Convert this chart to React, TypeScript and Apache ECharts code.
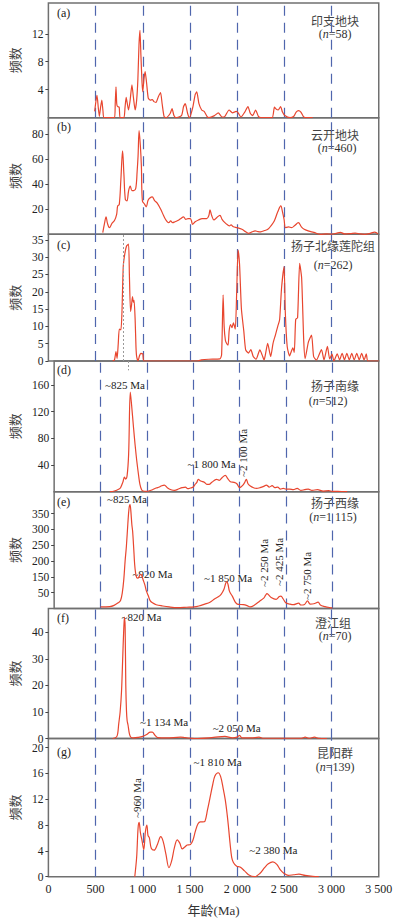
import React, { useEffect, useRef } from 'react';
import * as echarts from 'echarts';

// ---------- data (ages in Ma, kernel-density counts) ----------
const agesA = [490, 505, 515, 528, 540, 553, 566, 578, 590, 700, 708, 716, 724, 732, 750, 760, 800, 812, 824, 836, 849, 866, 885, 900, 919, 935, 948, 960, 970, 980, 992, 1000, 1012, 1025, 1040, 1058, 1080, 1100, 1118, 1140, 1165, 1188, 1205, 1225, 1245, 1290, 1310, 1330, 1350, 1410, 1432, 1450, 1475, 1495, 1530, 1555, 1572, 1595, 1624, 1650, 1680, 1700, 1760, 1800, 1840, 1870, 1914, 1950, 1990, 2010, 2040, 2080, 2114, 2140, 2165, 2195, 2225, 2250, 2370, 2395, 2415, 2435, 2460, 2480, 2505, 2560, 2600, 2625, 2650, 2675, 2700, 2720, 2800];
const countA = [0.9, 2.5, 3.2, 1.5, 0.2, 1.5, 2.5, 1.0, 0, 0, 2.0, 4.4, 2.0, 1.6, 1.5, 0, 0, 1.5, 2.9, 2.0, 1.1, 2.5, 4.7, 3.0, 1.1, 2.5, 5.5, 10.5, 12.5, 9.0, 5.0, 3.7, 5.5, 6.6, 5.0, 2.8, 2.5, 2.6, 2.3, 2.2, 3.0, 3.6, 2.0, 0.2, 0, 0.6, 1.3, 0.3, 0, 0.3, 1.6, 2.0, 0.6, 0, 1.5, 3.3, 3.7, 2.0, 1.1, 0.9, 0.2, 0, 0.3, 0.7, 0.1, 0.2, 1.1, 0.7, 0.9, 0.7, 0.1, 0.8, 1.6, 0.6, 0.3, 1.1, 0.2, 0, 0, 1.5, 1.2, 1.1, 1.6, 0.8, 0.3, 0, 0.2, 0.8, 1.0, 0.8, 0.2, 0, 0];

const agesB = [576, 595, 611, 625, 646, 675, 700, 723, 734, 751, 768, 786, 800, 815, 832, 850, 867, 885, 905, 926, 940, 950, 961, 975, 985, 996, 1020, 1037, 1055, 1075, 1100, 1125, 1153, 1190, 1220, 1240, 1260, 1275, 1295, 1317, 1340, 1370, 1400, 1432, 1455, 1480, 1503, 1515, 1527, 1555, 1590, 1630, 1677, 1700, 1712, 1730, 1754, 1785, 1817, 1840, 1870, 1900, 1918, 1935, 1960, 2000, 2050, 2090, 2120, 2160, 2190, 2220, 2250, 2290, 2325, 2360, 2393, 2430, 2462, 2480, 2497, 2512, 2545, 2575, 2610, 2648, 2680, 2710, 2760, 2812, 2880, 2950, 3000, 3050, 3092, 3140, 3200, 3250, 3300, 3350, 3400, 3458, 3493];
const countB = [1.3, 9, 14, 9, 5.3, 9, 11, 16, 22.7, 24, 44, 66.7, 48, 28, 26.7, 35, 38.6, 35, 35, 37, 50, 62.7, 83, 70, 54.7, 26.7, 24, 22, 27, 29, 30, 27, 25, 20, 15, 12, 10, 9.3, 10.7, 9.3, 10, 11, 12.5, 14, 12, 12.5, 12.5, 11, 8, 10, 11.5, 12.5, 12.5, 15, 19.5, 15, 11.5, 13.5, 15.2, 12, 9.3, 7.5, 6.7, 7.5, 6, 5.3, 4, 2, 0.8, 2, 2.7, 2.2, 2, 3, 4, 7, 10.7, 18, 22.7, 18, 12, 5.3, 6, 5.3, 7, 9.3, 6, 4, 2.5, 1.6, 0, 0.3, 0.2, 0.8, 1.6, 0.3, 0.6, 1, 0.3, 0, 0.5, 1.8, 0.3];

const agesC = [680, 700, 716, 728, 740, 751, 768, 779, 793, 810, 828, 849, 858, 870, 880, 891, 900, 908, 919, 928, 935, 950, 965, 978, 1000, 1014, 1580, 1620, 1700, 1817, 1835, 1851, 1862, 1875, 1890, 1904, 1915, 1930, 1945, 1960, 1980, 1995, 2009, 2025, 2045, 2070, 2090, 2120, 2145, 2170, 2200, 2240, 2265, 2285, 2300, 2323, 2355, 2380, 2405, 2430, 2450, 2470, 2497, 2510, 2530, 2555, 2590, 2605, 2620, 2640, 2662, 2683, 2705, 2720, 2755, 2788, 2810, 2840, 2893, 2920, 2956, 2980, 3005, 3025, 3060, 3085, 3112, 3137, 3162, 3188, 3214, 3240, 3267, 3293, 3319, 3345, 3368, 3385, 3500];
const countC = [0, 0.3, 2.7, 0.7, 5, 9.2, 9, 13.8, 27.3, 31, 33.2, 33.8, 25, 14.3, 16, 18.6, 17, 17.5, 12, 4, 1.3, 0, 1.5, 2.2, 2, 0, 0, 0.3, 0.5, 0.6, 1.8, 19.1, 10, 6, 5, 4.6, 8.7, 10.5, 9.6, 11, 9.2, 20, 32, 28, 15, 8.7, 3.2, 2.3, 3.3, 1.3, 0.5, 3.2, 1.7, 0.3, 2, 5.1, 1.3, 5.1, 7.5, 10, 12, 21, 27.3, 14, 4.2, 1.5, 3.8, 2.5, 12, 12.5, 28.2, 24, 6, 0.7, 5.5, 7.5, 1.3, 0.3, 3.3, 0.3, 4.2, 0.6, 2, 0, 2.1, 0.3, 2.2, 0.3, 2.2, 0.3, 2.2, 0.3, 2.2, 0.3, 2.2, 0.3, 2.1, 0, 0];

const agesD = [600, 650, 700, 716, 740, 758, 770, 786, 803, 821, 835, 856, 873, 891, 910, 925, 943, 960, 1000, 1060, 1100, 1135, 1160, 1188, 1220, 1260, 1300, 1340, 1380, 1415, 1440, 1470, 1500, 1520, 1537, 1555, 1580, 1620, 1650, 1670, 1700, 1750, 1780, 1810, 1845, 1870, 1900, 1940, 1970, 2000, 2030, 2055, 2072, 2090, 2115, 2150, 2180, 2220, 2260, 2288, 2320, 2350, 2380, 2410, 2440, 2470, 2500, 2540, 2580, 2620, 2660, 2700, 2740, 2780, 2840, 2900, 2960, 3000, 3100, 3160];
const countD = [0, 1, 4, 6, 14, 22, 19, 23.5, 56, 149.5, 130, 96, 70, 46, 25, 11, 3, 1, 0.5, 3, 5.5, 7, 9, 10, 6, 3, 2, 4, 6, 7, 4.5, 5.5, 7, 11, 13.5, 18.6, 16, 14, 11, 11, 14, 18.6, 17, 21, 24.6, 20, 15, 14, 12, 6, 9, 14, 18.6, 12, 8.5, 6, 5, 6, 8, 10, 7, 9, 6, 7, 4, 5, 4, 4, 3, 5, 2, 3, 4, 2, 3, 1, 1.5, 0.5, 0.3, 0];

const agesE = [500, 600, 646, 690, 716, 735, 751, 765, 779, 795, 808, 818, 826, 838, 846, 858, 868, 878, 890, 903, 915, 928, 943, 960, 978, 995, 1013, 1035, 1060, 1100, 1170, 1240, 1330, 1430, 1510, 1560, 1624, 1680, 1729, 1770, 1800, 1830, 1850, 1862, 1875, 1890, 1921, 1974, 2040, 2080, 2114, 2160, 2218, 2260, 2280, 2295, 2310, 2340, 2393, 2428, 2445, 2470, 2497, 2540, 2580, 2637, 2660, 2700, 2732, 2760, 2800, 2847, 2870, 2920, 2970, 3000];
const countE = [5, 6, 10, 18, 25, 50, 92, 150, 197, 270, 318, 329, 312, 265, 245, 190, 140, 113, 98, 96, 100, 108, 105, 90, 75, 55, 42, 25, 18, 12, 8, 5, 3, 4, 5, 8, 14, 20, 30, 37, 45, 60, 80, 85, 76, 55, 39, 14, 12, 9, 5, 11, 24, 33, 42, 47, 44, 35, 29, 38, 39, 30, 18, 14, 12, 17, 11, 13, 24, 14, 15, 20, 11, 6, 3, 2];

const agesF = [680, 720, 734, 745, 760, 775, 787, 797, 806, 813, 820, 827, 834, 844, 858, 872, 900, 950, 1000, 1040, 1080, 1100, 1130, 1160, 1250, 1400, 1450, 1550, 1750, 1870, 1950, 2000, 2026, 2050, 2150, 2230, 2280, 2680, 2720, 2760, 2820, 2860, 2950];
const countF = [0, 0.5, 1.8, 5.5, 10, 18, 30, 40, 45.8, 42, 20, 10.6, 6.8, 5, 1.8, 0.5, 0.2, 0.4, 0.8, 1.5, 2.4, 2.4, 1.2, 0.3, 0.2, 0.5, 0.3, 0, 0.4, 0.8, 0.2, 0.5, 1.2, 0.2, 0.2, 0.5, 0.1, 0.1, 0.5, 0.1, 0.5, 0.1, 0];

const agesG = [915, 935, 950, 961, 975, 993, 1010, 1028, 1043, 1055, 1070, 1090, 1120, 1155, 1190, 1215, 1245, 1277, 1305, 1335, 1365, 1392, 1418, 1445, 1470, 1505, 1530, 1558, 1585, 1610, 1635, 1659, 1685, 1712, 1740, 1764, 1799, 1825, 1850, 1874, 1895, 1910, 1925, 1942, 1960, 1995, 2030, 2078, 2120, 2183, 2240, 2290, 2330, 2378, 2420, 2460, 2497, 2540, 2600, 2655, 2720, 2800, 2865];
const countG = [0, 3, 7.5, 8.4, 6.8, 5.5, 4.2, 7, 8, 6.4, 6, 4.4, 4.1, 5, 6.2, 5.5, 3.5, 1.4, 2.4, 4.5, 5.7, 5.2, 4.3, 4.6, 4.9, 5.0, 5.6, 7.1, 8.2, 8.5, 8.5, 8.6, 10.3, 12.2, 14.2, 15.6, 16.1, 15.5, 13.8, 11.9, 9.5, 7.4, 5.1, 3.0, 2.2, 1.6, 1.5, 0.9, 0.3, 0, 0.5, 1.4, 2.0, 2.3, 1.9, 1.0, 0.5, 0.2, 0.3, 0.4, 0.2, 0.05, 0];

const agesAll = [agesA, agesB, agesC, agesD, agesE, agesF, agesG];
const countsAll = [countA, countB, countC, countD, countE, countF, countG];

const panelTags = ['(a)', '(b)', '(c)', '(d)', '(e)', '(f)', '(g)'];
const regionNames = ['印支地块', '云开地块', '扬子北缘莲陀组', '扬子南缘', '扬子西缘', '澄江组', '昆阳群'];
const sampleSizes = ['58', '460', '262', '512', '1 115', '70', '139'];

const yTicksA = [4, 8, 12];
const yTicksB = [20, 40, 60, 80];
const yTicksC = [0, 5, 10, 15, 20, 25, 30, 35];
const yTicksD = [40, 80, 120, 160];
const yTicksE = [50, 100, 150, 200, 250, 300];
const yTickTextE = ['50', '150', '200', '250', '300', '350'];
const yTicksF = [0, 10, 20, 30, 40];
const yTicksG = [0, 4, 8, 12, 16, 20];
const yTicksAll = [yTicksA, yTicksB, yTicksC, yTicksD, yTicksE, yTicksF, yTicksG];

const xTicks = [0, 500, 1000, 1500, 2000, 2500, 3000, 3500];
const guideAges = [500, 1000, 1500, 2000, 2500, 3000];
const markerAge = 798;

const peakNotesD = ['~825 Ma', '~1 800 Ma', '~2 100 Ma'];
const peakNotesE = ['~825 Ma', '~920 Ma', '~1 850 Ma', '~2 250 Ma', '~2 425 Ma', '~2 750 Ma'];
const peakNotesF = ['~820 Ma', '~1 134 Ma', '~2 050 Ma'];
const peakNotesG = ['~960 Ma', '~1 810 Ma', '~2 380 Ma'];

// ---------- layout ----------
const W = 396;
const H = 919;
const gridLeft = 44.5;
const gridWidth = 334.25;
const gridTops = [3, 117.7, 234.3, 361, 491.7, 608.5, 738.5];
const gridBottom = 876.7;
const yMaxes = [16.4, 93.3, 36.6, 196, 369.6, 49, 21.4];

const SERIF = "'Liberation Serif', 'Times New Roman', 'Noto Sans CJK SC', serif";
const CJK = "'Noto Sans CJK SC', sans-serif";
const RED = '#e8462f';
const BLUE = '#4f66ad';

const fmtThousands = (v: number) => {
  const s = String(Math.round(v));
  return s.length > 3 ? s.slice(0, s.length - 3) + ' ' + s.slice(s.length - 3) : s;
};

function buildOption() {
  const n = gridTops.length;
  const grids = gridTops.map((t, i) => ({
    left: gridLeft,
    width: gridWidth,
    top: t,
    height: (i < n - 1 ? gridTops[i + 1] : gridBottom) - t,
    show: true,
    borderColor: '#707070',
    borderWidth: 1.5,
    backgroundColor: 'transparent',
  }));

  const xAxes = gridTops.map((_, i) => ({
    type: 'value',
    gridIndex: i,
    min: 0,
    max: 3500,
    interval: 500,
    axisLine: { show: false },
    splitLine: { show: false },
    axisTick: { show: false },
    axisLabel: {
      show: i === n - 1,
      customValues: xTicks,
      formatter: (v: number) => fmtThousands(v),
      fontFamily: SERIF,
      fontSize: 12,
      color: '#222',
      margin: 6,
    },
    name: i === n - 1 ? '年龄(Ma)' : '',
    nameLocation: 'middle',
    nameGap: 27,
    nameTextStyle: { fontFamily: SERIF, fontSize: 13, color: '#333' },
  }));

  const yAxes = gridTops.map((_, i) => ({
    type: 'value',
    gridIndex: i,
    min: 0,
    max: yMaxes[i],
    axisLine: { show: false },
    splitLine: { show: false },
    axisTick: {
      show: true,
      customValues: yTicksAll[i],
      length: 3,
      lineStyle: { color: '#444', width: 1 },
    },
    axisLabel: {
      customValues: yTicksAll[i],
      formatter: (v: number) => {
        if (i === 4) {
          const k = yTicksE.indexOf(v);
          return k >= 0 ? yTickTextE[k] : '';
        }
        return String(v);
      },
      fontFamily: SERIF,
      fontSize: 11.5,
      color: '#222',
      margin: 5,
    },
    name: '频数',
    nameLocation: 'middle',
    nameGap: 24,
    nameTextStyle: { fontFamily: CJK, fontSize: 13, color: '#444' },
  }));

  const series: any[] = agesAll.map((ages, i) => ({
    type: 'line',
    xAxisIndex: i,
    yAxisIndex: i,
    data: ages.map((a, j) => [a, countsAll[i][j]]),
    showSymbol: false,
    symbol: 'none',
    smooth: i === 2 || i === 0 ? 0.2 : 0.35,
    silent: true,
    z: 3,
    lineStyle: { color: RED, width: 1.2 },
    markLine: {
      silent: true,
      symbol: 'none',
      label: { show: false },
      animation: false,
      z: 2,
      lineStyle: { color: BLUE, type: [10, 7], width: 1.2 },
      data: guideAges.map((a) => ({ xAxis: a })),
    },
  }));

  // grey dotted marker line through panel (c) into the top of (d)
  series.push({
    type: 'line',
    xAxisIndex: 2,
    yAxisIndex: 2,
    data: [],
    silent: true,
    markLine: {
      silent: true,
      symbol: 'none',
      label: { show: false },
      lineStyle: { color: '#9a9a9a', type: [2, 2], width: 1 },
      data: [{ xAxis: markerAge }],
    },
  });
  series.push({
    type: 'line',
    xAxisIndex: 3,
    yAxisIndex: 3,
    data: [],
    silent: true,
    markLine: {
      silent: true,
      symbol: 'none',
      label: { show: false },
      lineStyle: { color: '#9a9a9a', type: [2, 2], width: 1 },
      data: [[{ coord: [markerAge, yMaxes[3]] }, { coord: [markerAge, yMaxes[3] - 14] }]],
    },
  });

  const graphics: any[] = [];
  const tagY = [13, 127, 245, 370, 502, 618, 752];
  const nameY = [20, 134, 245.5, 385, 502.5, 622, 752];
  const nameX = [335, 335, 333, 335, 335, 333, 335];
  const nY = [34, 148, 264.5, 401, 517, 636, 766.5];
  const nX = [335, 337, 333, 328, 333, 335, 335];
  panelTags.forEach((tag, i) => {
    graphics.push({
      type: 'text',
      x: 57,
      y: tagY[i],
      style: { text: tag, fontFamily: SERIF, fontSize: 12, fill: '#222', align: 'left', verticalAlign: 'middle' },
    });
    graphics.push({
      type: 'text',
      x: nameX[i],
      y: nameY[i],
      style: { text: regionNames[i], fontFamily: CJK, fontSize: 12, fill: '#444', align: 'center', verticalAlign: 'middle' },
    });
    graphics.push({
      type: 'text',
      x: nX[i],
      y: nY[i],
      style: {
        text: '{p|(}{i|n}{p|=' + sampleSizes[i] + ')}',
        align: 'center',
        verticalAlign: 'middle',
        rich: {
          p: { fontFamily: SERIF, fontSize: 12, fill: '#333' },
          i: { fontFamily: SERIF, fontSize: 12, fontStyle: 'italic', fill: '#333' },
        },
      },
    });
  });

  const note = (text: string, x: number, y: number, align: string, rotated = false) => ({
    type: 'text',
    x,
    y,
    rotation: rotated ? Math.PI / 2 : 0,
    style: { text, fontFamily: SERIF, fontSize: 11, fill: '#222', align, verticalAlign: 'middle' },
  });
  graphics.push(note(peakNotesD[0], 125, 385, 'center'));
  graphics.push(note(peakNotesD[1], 211.5, 463.5, 'center'));
  graphics.push(note(peakNotesD[2], 242.7, 453, 'center', true));
  graphics.push(note(peakNotesE[0], 127, 498.5, 'center'));
  graphics.push(note(peakNotesE[1], 132.5, 573.5, 'left'));
  graphics.push(note(peakNotesE[2], 228, 577.5, 'center'));
  graphics.push(note(peakNotesE[3], 264, 563, 'center', true));
  graphics.push(note(peakNotesE[4], 279, 562, 'center', true));
  graphics.push(note(peakNotesE[5], 306.5, 576, 'center', true));
  graphics.push(note(peakNotesF[0], 121.5, 617, 'left'));
  graphics.push(note(peakNotesF[1], 140, 722, 'left'));
  graphics.push(note(peakNotesF[2], 236.7, 727.5, 'center'));
  graphics.push(note(peakNotesG[0], 136.7, 798, 'center', true));
  graphics.push(note(peakNotesG[1], 217.5, 762, 'center'));
  graphics.push(note(peakNotesG[2], 273.3, 850, 'center'));

  return {
    animation: false,
    backgroundColor: '#ffffff',
    grid: grids,
    xAxis: xAxes,
    yAxis: yAxes,
    series,
    graphic: graphics,
  };
}

export default function App() {
  const ref = useRef<HTMLDivElement>(null);
  useEffect(() => {
    if (!ref.current) return;
    const chart = echarts.init(ref.current, undefined, { renderer: 'svg' });
    chart.setOption(buildOption() as any);
    return () => chart.dispose();
  }, []);
  return (
    <div
      ref={ref}
      style={{ position: 'fixed', left: 0, top: 0, width: W, height: H, background: '#fff' }}
    />
  );
}
